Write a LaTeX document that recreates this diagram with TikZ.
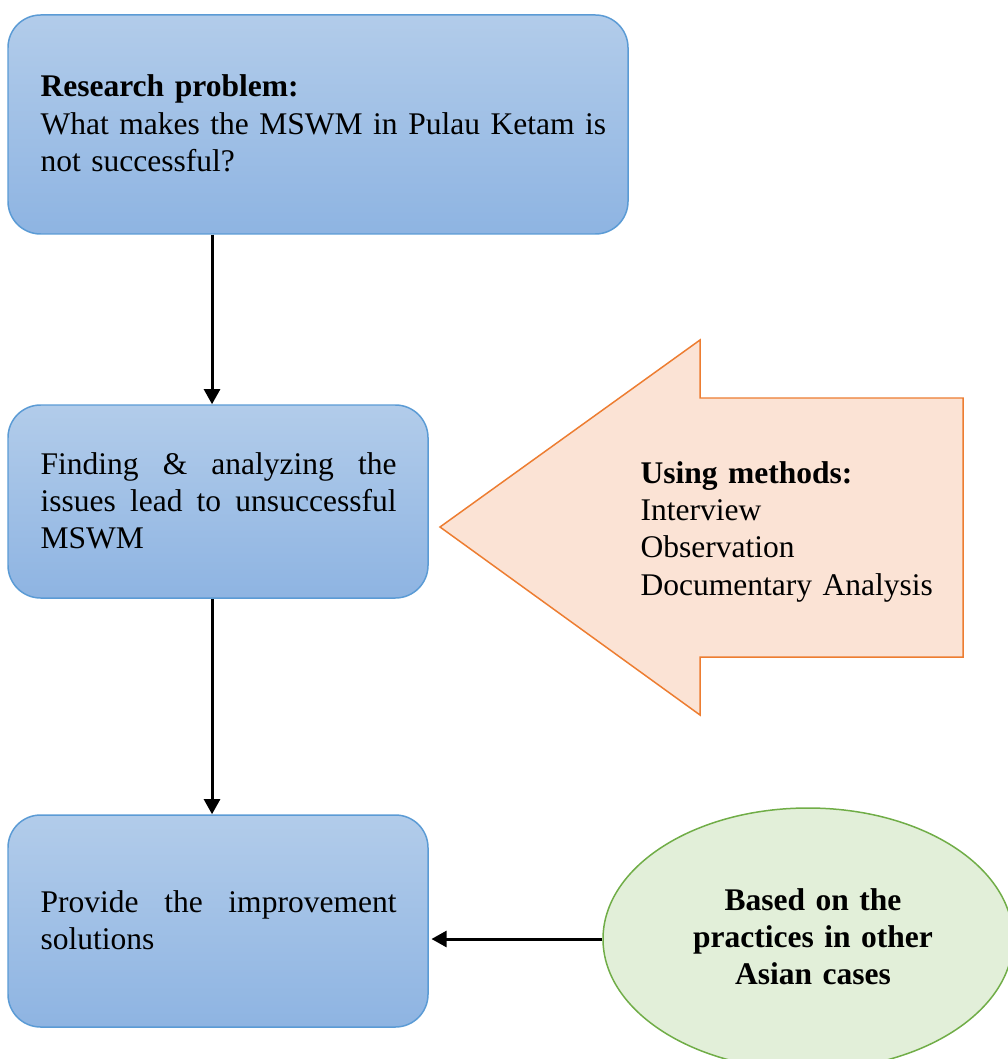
\documentclass[tikz,border=0pt]{standalone}
\usepackage{fontspec}
\setmainfont{Liberation Serif}
\usetikzlibrary{calc}
\usetikzlibrary{arrows.meta}
\usetikzlibrary{shapes.geometric}

\definecolor{boxtop}{RGB}{178,204,234}
\definecolor{boxbot}{RGB}{142,180,226}
\definecolor{boxline}{RGB}{91,155,213}
\definecolor{methfill}{RGB}{251,227,213}
\definecolor{methline}{RGB}{237,125,49}
\definecolor{basisfill}{RGB}{226,239,217}
\definecolor{basisline}{RGB}{112,173,71}

\newcommand{\pxl}{0.368pt}

\tikzset{
  box/.style={draw=boxline, line width=0.55pt, rounded corners=12pt,
    top color=boxtop, bottom color=boxbot, inner sep=0pt},
  txt/.style={inner sep=0pt, anchor=base west,
    font=\fontsize{11.6}{13.75}\selectfont},
  flow/.style={line width=1.1pt, -{Triangle[length=5.6pt,width=5.9pt]}},
  methods/.style={draw=methline, fill=methfill, line width=0.55pt},
}

\begin{document}
\begin{tikzpicture}[x=\pxl, y=-\pxl]

\useasboundingbox (0,0) rectangle (1008,1059);

% boxes of the flow
\node[box, minimum width=620*\pxl, minimum height=219*\pxl] (prob) at (318,124.5) {};
\node[box, minimum width=420*\pxl, minimum height=193*\pxl] (find) at (218,501.5) {};
\node[box, minimum width=420*\pxl, minimum height=212*\pxl] (solve) at (218,921) {};

\node[txt, text width=600*\pxl, align=left] (probtxt) at (40,97)
  {\textbf{Research problem:}\\What makes the MSWM in Pulau Ketam is\\not successful?};
\node[txt, text width=356*\pxl, align=justify] (findtxt) at (40,474)
  {Finding \& analyzing the\linebreak issues lead to unsuccessful\linebreak MSWM};
\node[txt, text width=356*\pxl, align=justify] (solvetxt) at (40,912)
  {Provide the improvement\linebreak solutions};

% methods arrow
\coordinate (tip) at (440,527);
\draw[methods] (tip) -- (700,340) -- (700,398) -- (963,398) -- (963,657)
  -- (700,657) -- (700,715) -- cycle;
\node[txt, text width=320*\pxl, align=left] (methtxt) at (640,483)
  {\textbf{Using methods:}\\Interview\\Observation\\Documentary Analysis};

% other cases
\node[ellipse, draw=basisline, fill=basisfill, line width=0.55pt, inner sep=0pt,
  minimum width=410*\pxl, minimum height=262*\pxl] (basis) at (808,939) {};
\node[txt, anchor=base, text width=300*\pxl, align=center] (basistxt) at (813,910)
  {\bfseries Based on the\\practices in other\\Asian cases};

% connectors
\draw[flow] ([xshift=-2.2pt]find.north |- prob.south) -- ([xshift=-2.2pt]find.north);
\draw[flow] ([xshift=-2.2pt]solve.north |- find.south) -- ([xshift=-2.2pt]solve.north);
\draw[flow] (basis.west) -- ([xshift=1pt]basis.west -| solve.east);

\end{tikzpicture}
\end{document}
